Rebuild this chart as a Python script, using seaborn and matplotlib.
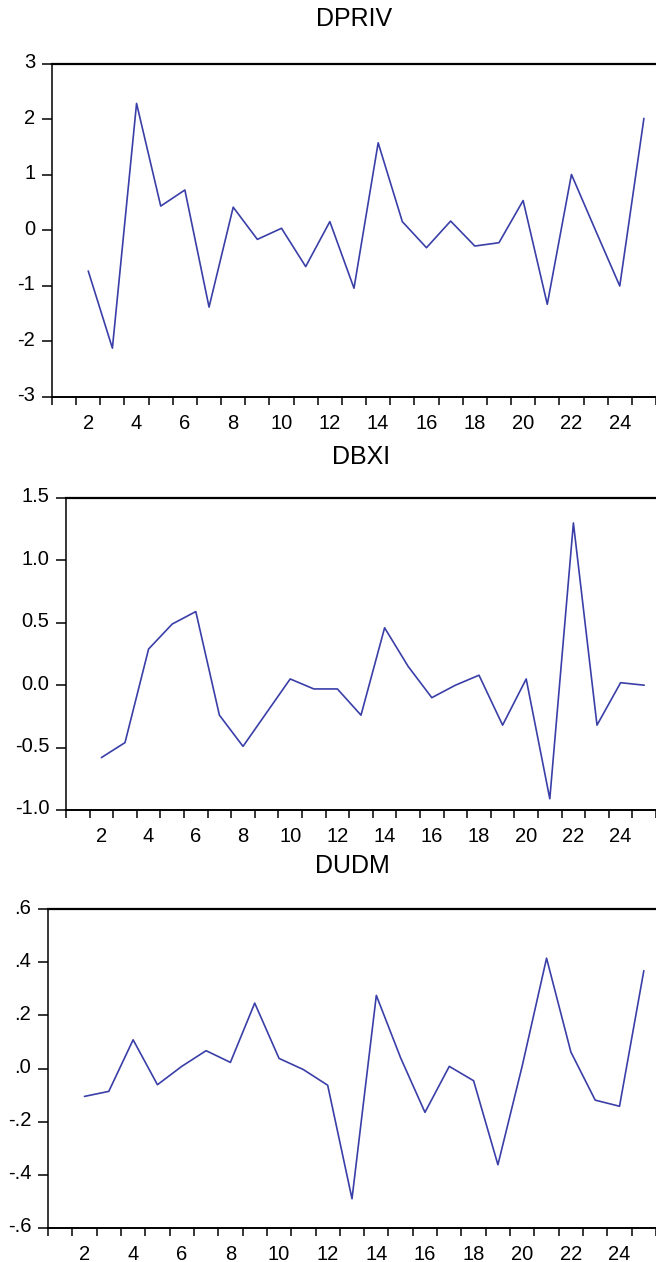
import numpy as np
import pandas as pd
import matplotlib
matplotlib.use("Agg")
import matplotlib.pyplot as plt
import matplotlib.transforms as mtransforms
import seaborn as sns
from matplotlib.ticker import FixedLocator, FuncFormatter

# observations 2..25
obs = list(range(2, 26))

dpriv = [-0.73, -2.12, 2.29, 0.44, 0.73, -1.38, 0.42, -0.16, 0.04, -0.65, 0.16, -1.04,
         1.58, 0.16, -0.31, 0.17, -0.28, -0.22, 0.54, -1.33, 1.01, 0.0, -1.00, 2.02]

dbxi = [-0.58, -0.46, 0.29, 0.49, 0.59, -0.24, -0.49, -0.22, 0.05, -0.03, -0.03, -0.24,
        0.46, 0.15, -0.10, 0.0, 0.08, -0.32, 0.05, -0.91, 1.30, -0.32, 0.02, 0.0]

dudm = [-0.105, -0.086, 0.108, -0.061, 0.008, 0.067, 0.023, 0.246, 0.038, -0.004, -0.063, -0.49,
        0.275, 0.04, -0.165, 0.008, -0.046, -0.362, 0.01, 0.415, 0.062, -0.119, -0.142, 0.368]

titles = ["DPRIV", "DBXI", "DUDM"]
yticks = [[-3, -2, -1, 0, 1, 2, 3],
          [-1.0, -0.5, 0.0, 0.5, 1.0, 1.5],
          [-0.6, -0.4, -0.2, 0.0, 0.2, 0.4, 0.6]]
xlabels = [2, 4, 6, 8, 10, 12, 14, 16, 18, 20, 22, 24]

df = pd.DataFrame({"obs": obs, "DPRIV": dpriv, "DBXI": dbxi, "DUDM": dudm})

sns.set_style("ticks")
plt.rcParams["font.family"] = ["Liberation Sans", "DejaVu Sans"]
plt.rcParams["text.color"] = "black"
plt.rcParams["xtick.color"] = "black"
plt.rcParams["ytick.color"] = "black"
plt.rcParams["xtick.labelcolor"] = "black"
plt.rcParams["ytick.labelcolor"] = "black"

W, H = 656, 1262
fig = plt.figure(figsize=(W / 100, H / 100), dpi=100)

# (left px, top px, bottom px, title y px)
boxes = [(52, 64, 397, 19), (66, 498, 810, 457), (48, 909, 1228, 866)]

def fmt_int(v, p):
    return "%d" % round(v)

def fmt_one(v, p):
    return "%.1f" % v

def fmt_dot(v, p):
    s = "%.1f" % v
    return s.replace("0.", ".")

formatters = [fmt_int, fmt_one, fmt_dot]
line_col = "#3a3fa8"

for i, name in enumerate(titles):
    left, top, bot, ty = boxes[i]
    ax = fig.add_axes([left / W, 1 - bot / H, (W - left) / W, (bot - top) / H])
    sns.lineplot(data=df, x="obs", y=name, ax=ax, color=line_col, linewidth=1.2)
    ax.set_xlim(0.5, 25.5)
    ax.set_ylim(yticks[i][0], yticks[i][-1])
    ax.set_xlabel("")
    ax.set_ylabel("")

    ax.xaxis.set_major_locator(FixedLocator(xlabels))
    ax.xaxis.set_minor_locator(FixedLocator(np.arange(0.5, 26, 1.0)))
    ax.tick_params(axis="x", which="major", length=0, pad=12, labelsize=14.5, labelcolor="black")
    ax.tick_params(axis="x", which="minor", length=6, width=1.1, direction="out", color="black")
    ax.set_yticks(yticks[i])
    ax.yaxis.set_major_formatter(FuncFormatter(formatters[i]))
    ax.tick_params(axis="y", length=7, width=1.1, pad=5, labelsize=14.5,
                   color="black", labelcolor="black")
    # labels sit a little above their ticks in the original
    shift = mtransforms.ScaledTranslation(0, 3 / 100, fig.dpi_scale_trans)
    for lab in ax.get_yticklabels():
        lab.set_transform(lab.get_transform() + shift)

    for s in ["top", "bottom", "left"]:
        ax.spines[s].set_visible(True)
        ax.spines[s].set_color("black")
    ax.spines["top"].set_linewidth(1.6)
    ax.spines["bottom"].set_linewidth(1.4)
    ax.spines["left"].set_linewidth(1.1)
    ax.spines["right"].set_visible(False)

    cx = (left + W) / 2 / W
    fig.text(cx, 1 - ty / H, name, ha="center", va="center", fontsize=18, color="black")

fig.savefig("out.png", dpi=100)
